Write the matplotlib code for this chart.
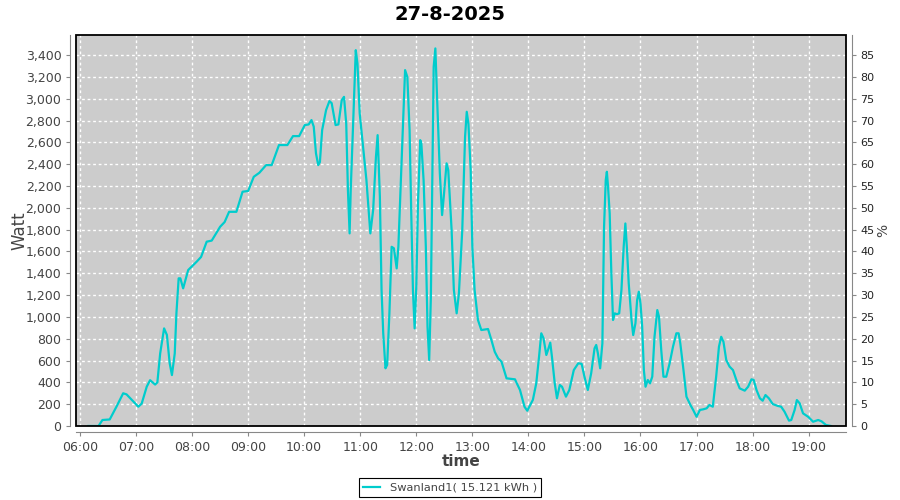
import pandas as pd
import matplotlib
matplotlib.use("Agg")
import matplotlib.pyplot as plt
import matplotlib.dates as mdates
from matplotlib.patches import Rectangle
from matplotlib.ticker import FuncFormatter, MultipleLocator

# time of day in decimal hours, power in watts
hours = [
    6.15, 6.33, 6.40, 6.53, 6.65, 6.77, 6.83, 7.04, 7.10, 7.19, 7.25, 7.34, 7.38,
    7.43, 7.50, 7.55, 7.60, 7.64, 7.69, 7.72, 7.76, 7.79, 7.84, 7.93, 8.08, 8.16,
    8.26, 8.35, 8.50, 8.58, 8.66, 8.79, 8.90, 9.00, 9.10, 9.20, 9.32, 9.42, 9.55,
    9.70, 9.80, 9.91, 10.01, 10.08, 10.13, 10.17, 10.21, 10.25, 10.28, 10.32,
    10.39, 10.45, 10.49, 10.56, 10.61, 10.67, 10.71, 10.75, 10.78, 10.81, 10.83,
    10.89, 10.92, 10.95, 10.99, 11.05, 11.11, 11.18, 11.23, 11.28, 11.31, 11.35,
    11.38, 11.41, 11.45, 11.48, 11.52, 11.56, 11.60, 11.65, 11.68, 11.72, 11.77,
    11.80, 11.84, 11.88, 11.91, 11.94, 11.97, 12.00, 12.03, 12.07, 12.09, 12.13,
    12.17, 12.20, 12.23, 12.26, 12.29, 12.31, 12.34, 12.37, 12.42, 12.46, 12.49,
    12.54, 12.57, 12.63, 12.67, 12.72, 12.76, 12.82, 12.87, 12.90, 12.93, 12.97,
    13.00, 13.04, 13.10, 13.16, 13.28, 13.34, 13.40, 13.46, 13.52, 13.61, 13.76,
    13.85, 13.93, 13.98, 14.08, 14.14, 14.19, 14.23, 14.27, 14.32, 14.35, 14.39,
    14.42, 14.47, 14.51, 14.56, 14.60, 14.67, 14.73, 14.81, 14.89, 14.95, 15.00,
    15.06, 15.12, 15.18, 15.21, 15.24, 15.28, 15.32, 15.35, 15.38, 15.40, 15.42,
    15.45, 15.48, 15.51, 15.54, 15.58, 15.62, 15.66, 15.70, 15.73, 15.76, 15.79,
    15.84, 15.87, 15.91, 15.94, 15.97, 16.00, 16.03, 16.06, 16.09, 16.13, 16.17,
    16.21, 16.25, 16.30, 16.33, 16.37, 16.41, 16.46, 16.52, 16.58, 16.64, 16.68,
    16.71, 16.76, 16.82, 16.89, 16.94, 17.00, 17.06, 17.12, 17.18, 17.23, 17.29,
    17.35, 17.40, 17.44, 17.48, 17.53, 17.59, 17.65, 17.71, 17.77, 17.86, 17.92,
    17.98, 18.02, 18.07, 18.13, 18.18, 18.23, 18.29, 18.36, 18.45, 18.51, 18.57,
    18.65, 18.69, 18.75, 18.79, 18.84, 18.90, 18.99, 19.08, 19.17, 19.23, 19.31,
    19.40,
]
watts = [
    0, 0, 55, 60, 177, 300, 290, 177, 205, 360, 420, 380, 400,
    665, 895, 835, 575, 467, 665, 1033, 1354, 1354, 1262, 1430, 1506, 1550,
    1690, 1700, 1827, 1870, 1964, 1964, 2148, 2155, 2285, 2322, 2392, 2392, 2576,
    2576, 2658, 2658, 2759, 2765, 2805, 2745, 2500, 2392, 2420, 2713,
    2896, 2979, 2960, 2759, 2765, 2988, 3018, 2770, 2163, 1766, 2163,
    3018, 3446, 3324, 2866, 2560, 2255, 1766, 1980, 2468, 2667, 2102,
    1247, 850, 529, 560, 1033, 1643, 1630, 1445, 1643, 2193, 2866,
    3263, 3200, 2713, 1950, 1247, 895, 1280, 2041, 2621, 2590, 2255,
    1643, 910, 605, 1185, 2408, 3293, 3462, 3018, 2316, 1934, 2102,
    2408, 2347, 1796, 1247, 1033, 1216, 1796, 2652, 2881, 2770, 2347,
    1643, 1247, 972, 880, 889, 788, 680, 620, 590, 437, 428,
    330, 177, 140, 240, 391, 635, 850, 804, 651, 697, 764,
    635, 391, 254, 376, 360, 269, 330, 513, 575, 570, 452,
    330, 483, 712, 743, 666, 529, 758, 1827, 2255, 2331, 2200,
    1950, 1400, 972, 1033, 1025, 1033, 1247, 1643, 1857, 1613, 1308,
    972, 834, 942, 1155, 1231, 1124, 910, 513, 360, 422, 391,
    452, 818, 1063, 1002, 697, 452, 452, 575, 727, 850, 850,
    758, 544, 269, 193, 147, 85, 147, 153, 162, 193, 177,
    452, 727, 818, 773, 605, 544, 513, 422, 345, 324, 360,
    428, 422, 330, 254, 232, 284, 254, 201, 184, 177, 131,
    49, 55, 147, 238, 208, 116, 85, 39, 55, 43, 9,
    0,
]
title = "27-8-2025"
series_label = "Swanland1( 15.121 kWh )"

day = pd.Timestamp("2025-08-27")
times = day + pd.to_timedelta(hours, unit="h")

grey = "#444444"
plt.rcParams["font.family"] = "DejaVu Sans"

fig = plt.figure(figsize=(9, 5), dpi=100)
ax = fig.add_axes([76 / 900, 74 / 500, 770 / 900, 391 / 500])
ax.set_facecolor("#cccccc")

line, = ax.plot(times, watts, color="#00cccc", linewidth=1.6, label=series_label)

# black frame round the plot area
ax.add_patch(Rectangle((0, 0), 1, 1, transform=ax.transAxes, fill=False,
                       edgecolor="black", linewidth=1.3, zorder=5, clip_on=False))

x0 = day + pd.Timedelta(hours=6) - pd.Timedelta(minutes=4.3)
x1 = day + pd.Timedelta(hours=19, minutes=40)
ax.set_xlim(x0, x1)
ymax = 3585
ax.set_ylim(0, ymax)

ax.xaxis.set_major_locator(mdates.HourLocator())
ax.xaxis.set_major_formatter(mdates.DateFormatter("%H:%M"))
ax.yaxis.set_major_locator(MultipleLocator(200))
ax.yaxis.set_major_formatter(FuncFormatter(lambda v, p: f"{int(v):,}"))
ax.grid(True, color="white", linestyle=(0, (2, 2)), linewidth=1)

for side in ("top", "right"):
    ax.spines[side].set_visible(False)
for side in ("left", "bottom"):
    ax.spines[side].set_position(("outward", 4))
    ax.spines[side].set_color("#888888")
ax.tick_params(colors="#888888", labelcolor=grey, labelsize=9, length=3)

ax.set_ylabel("Watt", fontsize=12, color=grey)
ax.yaxis.set_label_coords(-0.062, 0.5)
ax.set_xlabel("time", fontsize=11, color=grey, fontweight="bold")
ax.xaxis.set_label_coords(0.5, -0.072)
fig.text(0.5, 0.972, title, ha="center", va="center", fontsize=14, fontweight="bold")

ax2 = ax.twinx()
ax2.set_ylim(0, ymax / 40)
ax2.yaxis.set_major_locator(MultipleLocator(5))
for side in ("top", "left", "bottom"):
    ax2.spines[side].set_visible(False)
ax2.spines["right"].set_position(("outward", 4))
ax2.spines["right"].set_color("#888888")
ax2.tick_params(colors="#888888", labelcolor="#222222", labelsize=8, length=3)
ax2.set_ylabel("%", fontsize=10, color=grey)
ax2.yaxis.set_label_coords(1.039, 0.5)

leg = fig.legend(handles=[line], loc="lower center", bbox_to_anchor=(0.5, -0.006),
                 fancybox=False, framealpha=1, edgecolor="black",
                 fontsize=8.2, handlelength=1.5, borderpad=0.4)
leg.get_frame().set_linewidth(0.8)
for t in leg.get_texts():
    t.set_color(grey)

fig.savefig("out.png", dpi=100)
